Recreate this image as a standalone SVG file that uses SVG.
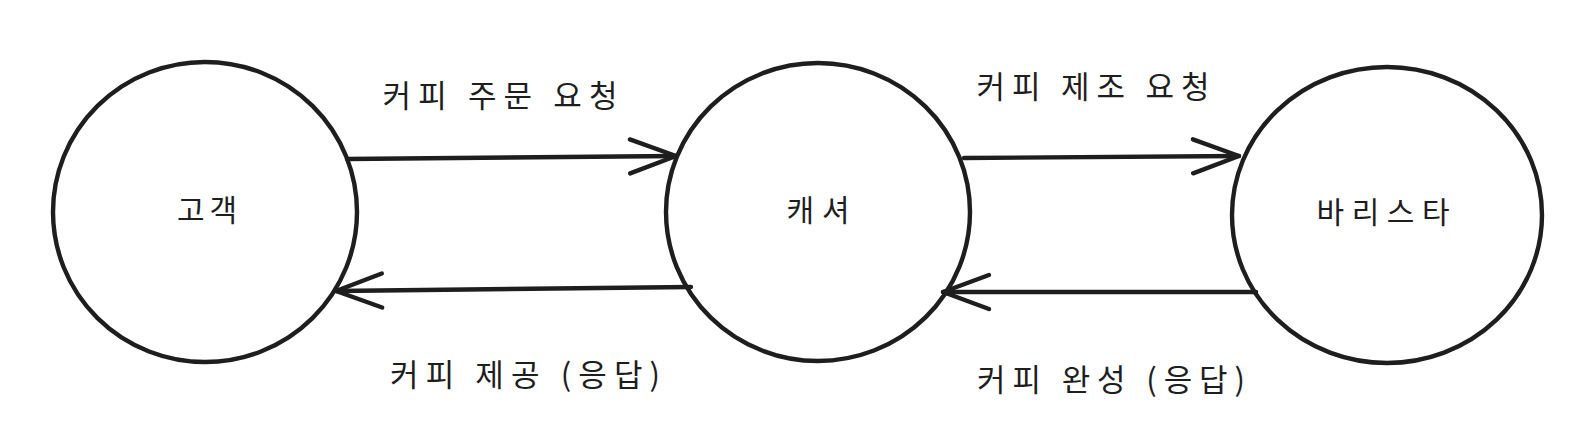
<svg xmlns="http://www.w3.org/2000/svg" width="1588" height="443" viewBox="0 0 1588 443">
  <style>
    .node { fill: none; stroke: #1e1e1e; stroke-width: 4.4; }
    .edge { fill: none; stroke: #1e1e1e; stroke-width: 4.4; stroke-linecap: round; }
    text { font-family: "Noto Sans CJK KR", "Noto Sans", sans-serif; fill: #1e1e1e; font-weight: 400; }
    .nl { font-size: 30px; text-anchor: middle; }
    .el { font-size: 31px; text-anchor: middle; }
  </style>
  <defs>
    <marker id="head" markerUnits="userSpaceOnUse" markerWidth="60" markerHeight="44" refX="0" refY="0" viewBox="-50 -22 60 44" orient="auto" overflow="visible">
      <path d="M -46 -17 L 0 0 L -46 17" fill="none" stroke="#1e1e1e" stroke-width="4.4" stroke-linecap="round" stroke-linejoin="round"/>
    </marker>
  </defs>
  <rect width="1588" height="443" fill="#ffffff"/>

  <g id="connectors">
    <g id="e1">
      <path class="edge" d="M 347 159 L 676 156" marker-end="url(#head)"/>
      <text class="el" x="500" y="107" textLength="235" lengthAdjust="spacing">커피 주문 요청</text>
    </g>
    <g id="e2">
      <path class="edge" d="M 691 287 L 336 291" marker-end="url(#head)"/>
      <text class="el" x="525" y="386" textLength="270" lengthAdjust="spacing">커피 제공 (응답)</text>
    </g>
    <g id="e3">
      <path class="edge" d="M 964 158 L 1239 156" marker-end="url(#head)"/>
      <text class="el" x="1093" y="98" textLength="233" lengthAdjust="spacing">커피 제조 요청</text>
    </g>
    <g id="e4">
      <path class="edge" d="M 1256 292 L 943 292" marker-end="url(#head)"/>
      <text class="el" x="1111" y="391" textLength="268" lengthAdjust="spacing">커피 완성 (응답)</text>
    </g>
  </g>

  <g id="customer">
    <ellipse class="node" cx="205" cy="212" rx="152" ry="150"/>
    <text class="nl" x="207" y="221" textLength="60" lengthAdjust="spacing">고객</text>
  </g>

  <g id="cashier">
    <ellipse class="node" cx="818" cy="212" rx="152" ry="149"/>
    <text class="nl" x="818" y="221" textLength="63" lengthAdjust="spacing">캐셔</text>
  </g>

  <g id="barista">
    <ellipse class="node" cx="1387" cy="215" rx="155" ry="148"/>
    <text class="nl" x="1383" y="223" textLength="133" lengthAdjust="spacing">바리스타</text>
  </g>
</svg>
